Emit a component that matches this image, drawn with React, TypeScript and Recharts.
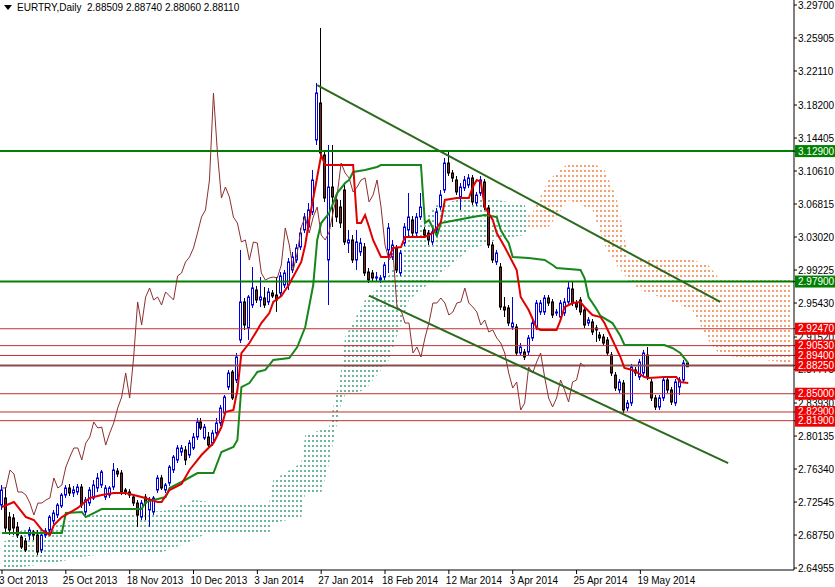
import React from "react";
import { Area, Bar, ComposedChart, Line, ReferenceLine, XAxis, YAxis } from "recharts";

const FONT = "'Liberation Sans', Arial, sans-serif";

// daily candles, EURTRY, 3 Oct 2013 .. 3 Jun 2014
const opens = [
  2.7220, 2.7301, 2.7082, 2.7071, 2.6967, 2.6852, 2.6806, 2.6875, 2.6910, 2.6875,
  2.6703, 2.6875, 2.6933, 2.7036, 2.7105, 2.7209, 2.7335, 2.7416, 2.7358, 2.7370,
  2.7427, 2.7140, 2.7243, 2.7301, 2.7416, 2.7450, 2.7312, 2.7335, 2.7427, 2.7611,
  2.7588, 2.7393, 2.7370, 2.7312, 2.7243, 2.7082, 2.7312, 2.7163, 2.7140, 2.7393,
  2.7531, 2.7393, 2.7473, 2.7623, 2.7738, 2.7830, 2.7853, 2.7795, 2.7876, 2.8002,
  2.8175, 2.7991, 2.8002, 2.7933, 2.8048, 2.8163, 2.8278, 2.8577, 2.8750, 2.8658,
  2.9118, 2.9555, 2.9256, 2.9520, 2.9693, 2.9578, 2.9601, 2.9555, 2.9658, 2.9635,
  2.9658, 2.9750, 2.9750, 2.9923, 3.0038, 3.0187, 3.0383, 3.0417, 3.0590, 3.1418,
  3.1843, 3.1245, 3.0038, 3.0877, 3.0728, 3.0647, 3.0843, 3.0233, 3.0268, 3.0038,
  3.0130, 3.0187, 2.9900, 2.9888, 2.9831, 2.9808, 2.9842, 3.0153, 3.0072, 3.0176,
  2.9888, 3.0233, 3.0383, 3.0498, 3.0348, 3.0532, 3.0383, 3.0348, 3.0245, 3.0383,
  3.0647, 3.0843, 3.1153, 3.1038, 3.0958, 3.0762, 3.0866, 3.0900, 3.0981, 3.0693,
  3.0808, 3.0935, 3.0636, 3.0210, 3.0015, 2.9957, 2.9497, 2.9486, 2.9267, 2.9267,
  2.8968, 2.8980, 2.8980, 2.9141, 2.9267, 2.9440, 2.9440, 2.9601, 2.9555, 2.9428,
  2.9382, 2.9428, 2.9555, 2.9704, 2.9543, 2.9578, 2.9463, 2.9313, 2.9325, 2.9256,
  2.9175, 2.9152, 2.9118, 2.8945, 2.8715, 2.8543, 2.8623, 2.8336, 2.8393, 2.8773,
  2.8692, 2.8738, 2.8945, 2.8635, 2.8451, 2.8347, 2.8451, 2.8658, 2.8543, 2.8393,
  2.8577, 2.8658, 2.88509,
];
const highs = [
  2.7450, 2.7427, 2.7140, 2.7117, 2.7025, 2.6875, 2.6841, 2.6967, 2.6933, 2.6933,
  2.6898, 2.6956, 2.7105, 2.7163, 2.7243, 2.7358, 2.7450, 2.7462, 2.7439, 2.7462,
  2.7462, 2.7312, 2.7427, 2.7508, 2.7588, 2.7623, 2.7450, 2.7439, 2.7703, 2.7646,
  2.7623, 2.7416, 2.7404, 2.7347, 2.7278, 2.7278, 2.7347, 2.7312, 2.7324, 2.7565,
  2.7565, 2.7473, 2.7680, 2.7795, 2.7910, 2.7910, 2.7899, 2.7968, 2.8048, 2.8221,
  2.8221, 2.8152, 2.8060, 2.8083, 2.8221, 2.8370, 2.8485, 2.8773, 2.8773, 2.8968,
  3.0153, 2.9601, 2.9635, 2.9957, 2.9739, 2.9842, 2.9727, 2.9716, 2.9693, 2.9842,
  2.9900, 2.9923, 3.0061, 3.0130, 3.0222, 3.0406, 3.0578, 3.0693, 3.1073, 3.2073,
  3.2706, 3.1303, 3.1360, 3.1360, 3.0785, 3.0728, 3.0900, 3.0383, 3.0325, 3.0383,
  3.0291, 3.0233, 2.9946, 2.9923, 2.9900, 2.9865, 3.0015, 3.0463, 3.0268, 3.0210,
  3.0153, 3.0463, 3.0808, 3.0544, 3.0578, 3.0808, 3.0417, 3.0383, 3.0406, 3.0636,
  3.0843, 3.1211, 3.1280, 3.1073, 3.1004, 3.0923, 3.1004, 3.1027, 3.1015, 3.0820,
  3.1004, 3.0969, 3.0670, 3.0245, 3.0153, 3.0003, 2.9612, 2.9520, 2.9612, 2.9302,
  2.9083, 2.9014, 2.9175, 2.9348, 2.9578, 2.9578, 2.9635, 2.9635, 2.9589, 2.9474,
  2.9578, 2.9601, 2.9785, 2.9785, 2.9578, 2.9612, 2.9497, 2.9382, 2.9359, 2.9290,
  2.9210, 2.9187, 2.9152, 2.8980, 2.8750, 2.8669, 2.8658, 2.8428, 2.8842, 2.8807,
  2.8899, 2.9003, 2.9037, 2.8669, 2.8485, 2.8485, 2.8692, 2.8692, 2.8577, 2.8669,
  2.8692, 2.8888, 2.8874,
];
const lows = [
  2.7163, 2.6910, 2.6875, 2.6875, 2.6841, 2.6714, 2.6680, 2.6818, 2.6818, 2.6645,
  2.6668, 2.6841, 2.6898, 2.7002, 2.7071, 2.7186, 2.7301, 2.7324, 2.7312, 2.7335,
  2.7186, 2.7105, 2.7209, 2.7278, 2.7370, 2.7416, 2.7278, 2.7301, 2.7393, 2.7542,
  2.7335, 2.7335, 2.7301, 2.7209, 2.6967, 2.7048, 2.7048, 2.6967, 2.7105, 2.7358,
  2.7393, 2.7358, 2.7439, 2.7588, 2.7703, 2.7784, 2.7680, 2.7761, 2.7853, 2.7968,
  2.8083, 2.7968, 2.7887, 2.7899, 2.8014, 2.8129, 2.8244, 2.8543, 2.8428, 2.8623,
  2.9083, 2.9233, 2.9118, 2.9486, 2.9543, 2.9497, 2.9486, 2.9520, 2.9601, 2.9440,
  2.9624, 2.9716, 2.9693, 2.9888, 3.0003, 3.0153, 3.0348, 3.0383, 3.0555, 3.1360,
  3.1222, 3.0705, 2.9520, 3.0417, 3.0475, 3.0406, 3.0210, 3.0118, 3.0003, 2.9923,
  3.0084, 2.9854, 2.9773, 2.9796, 2.9796, 2.9773, 2.9808, 2.9888, 3.0038, 2.9888,
  2.9854, 3.0199, 3.0302, 3.0314, 3.0314, 3.0498, 3.0291, 3.0210, 3.0210, 3.0348,
  3.0613, 3.0808, 3.1004, 3.0935, 3.0785, 3.0613, 3.0831, 3.0866, 3.0670, 3.0659,
  3.0774, 3.0613, 3.0176, 3.0003, 2.9980, 2.9463, 2.9382, 2.9279, 2.9233, 2.8934,
  2.8934, 2.8888, 2.8945, 2.9106, 2.9233, 2.9405, 2.9405, 2.9509, 2.9371, 2.9394,
  2.9348, 2.9394, 2.9520, 2.9509, 2.9463, 2.9405, 2.9256, 2.9279, 2.9175, 2.9095,
  2.9106, 2.9049, 2.8934, 2.8704, 2.8531, 2.8508, 2.8278, 2.8301, 2.8359, 2.8704,
  2.8658, 2.8704, 2.8658, 2.8416, 2.8313, 2.8313, 2.8416, 2.8508, 2.8370, 2.8359,
  2.8485, 2.8623, 2.8806,
];
const closes = [
  2.7393, 2.6956, 2.6933, 2.6956, 2.6875, 2.6737, 2.6703, 2.6933, 2.6875, 2.6680,
  2.6875, 2.6921, 2.7082, 2.7128, 2.7220, 2.7335, 2.7416, 2.7358, 2.7393, 2.7427,
  2.7220, 2.7278, 2.7393, 2.7450, 2.7531, 2.7600, 2.7416, 2.7416, 2.7623, 2.7577,
  2.7370, 2.7370, 2.7335, 2.7243, 2.7105, 2.7243, 2.7243, 2.7278, 2.7301, 2.7531,
  2.7416, 2.7450, 2.7657, 2.7772, 2.7876, 2.7876, 2.7738, 2.7933, 2.8002, 2.8175,
  2.8106, 2.8117, 2.7910, 2.8048, 2.8163, 2.8336, 2.8462, 2.8738, 2.8451, 2.8922,
  2.9555, 2.9290, 2.9612, 2.9716, 2.9578, 2.9612, 2.9520, 2.9670, 2.9624, 2.9578,
  2.9854, 2.9888, 3.0015, 3.0072, 3.0176, 3.0348, 3.0532, 3.0613, 3.0958, 3.1958,
  3.1268, 3.0751, 3.0877, 3.0762, 3.0532, 3.0463, 3.0245, 3.0268, 3.0038, 3.0245,
  3.0233, 2.9888, 2.9808, 2.9831, 2.9842, 2.9831, 2.9980, 3.0406, 3.0210, 2.9923,
  3.0118, 3.0417, 3.0532, 3.0348, 3.0532, 3.0647, 3.0325, 3.0268, 3.0360, 3.0590,
  3.0785, 3.1153, 3.1038, 3.0981, 3.0820, 3.0877, 3.0958, 3.0981, 3.0705, 3.0785,
  3.0958, 3.0647, 3.0210, 3.0038, 3.0118, 2.9497, 2.9463, 2.9313, 2.9313, 2.8968,
  2.9037, 2.8922, 2.9141, 2.9313, 2.9543, 2.9543, 2.9601, 2.9543, 2.9405, 2.9440,
  2.9543, 2.9555, 2.9716, 2.9543, 2.9497, 2.9440, 2.9290, 2.9348, 2.9210, 2.9233,
  2.9141, 2.9083, 2.8968, 2.8738, 2.8566, 2.8635, 2.8313, 2.8393, 2.8807, 2.8738,
  2.8865, 2.8968, 2.8692, 2.8451, 2.8347, 2.8451, 2.8658, 2.8543, 2.8405, 2.8635,
  2.8658, 2.8853, 2.8811,
];

// ichimoku lines, read at the bars where they turn
const tenkanBars = [
  0, 3, 6, 8, 10, 12, 13, 15, 19, 22, 25, 28, 31, 35, 39, 40, 42, 45, 47, 50,
  53, 55, 56, 58, 59, 60, 62, 64, 65, 67, 68, 70, 72, 75, 76, 77, 79, 80, 81, 88,
  89, 90, 91, 92, 93, 95, 97, 98, 100, 101, 106, 108, 110, 111, 114, 117, 118, 119, 120, 121,
  123, 124, 126, 129, 130, 132, 134, 135, 139, 140, 141, 143, 145, 146, 148, 150, 151, 153, 155, 156,
  158, 159, 161, 162, 166, 169, 170, 172,
];
const tenkanValues = [
  2.7197, 2.7255, 2.7082, 2.7048, 2.6933, 2.6875, 2.6990, 2.7082, 2.7186, 2.7301, 2.7335, 2.7358, 2.7358, 2.7312, 2.7255, 2.7255, 2.7393, 2.7462, 2.7623, 2.7795,
  2.7933, 2.8117, 2.8290, 2.8313, 2.8543, 2.8968, 2.9083, 2.9233, 2.9313, 2.9428, 2.9555, 2.9624, 2.9762, 3.0015, 3.0210, 3.0498, 3.0992, 3.1245, 3.1130, 3.1130,
  3.0463, 3.0463, 3.0555, 3.0417, 3.0268, 3.0072, 3.0072, 3.0176, 3.0187, 3.0302, 3.0302, 3.0348, 3.0475, 3.0728, 3.0751, 3.0751, 3.0877, 3.0958, 3.0935, 3.0647,
  3.0498, 3.0348, 3.0187, 2.9923, 2.9612, 2.9463, 2.9256, 2.9233, 2.9233, 2.9348, 2.9497, 2.9543, 2.9555, 2.9497, 2.9405, 2.9382, 2.9313, 2.9118, 2.8922, 2.8796,
  2.8773, 2.8750, 2.8692, 2.8681, 2.8692, 2.8692, 2.8635, 2.8623,
];
const kijunBars = [
  0, 15, 16, 20, 21, 23, 25, 35, 36, 41, 42, 45, 49, 53, 55, 58, 59, 60, 62, 64,
  66, 68, 72, 74, 76, 78, 79, 80, 82, 84, 86, 87, 88, 91, 94, 95, 105, 106, 107, 109,
  110, 114, 118, 121, 124, 125, 126, 127, 128, 132, 136, 138, 139, 145, 146, 147, 149, 150, 153, 155,
  156, 166, 168, 170, 172,
];
const kijunValues = [
  2.6898, 2.6898, 2.7128, 2.7140, 2.7082, 2.7128, 2.7174, 2.7174, 2.7255, 2.7312, 2.7416, 2.7485, 2.7588, 2.7588, 2.7830, 2.7887, 2.7968, 2.8577, 2.8623, 2.8750,
  2.8773, 2.8888, 2.8911, 2.9037, 2.9267, 2.9750, 3.0268, 3.0463, 3.0578, 3.0808, 3.0923, 3.0958, 3.1050, 3.1073, 3.1107, 3.1130, 3.1130, 3.0463, 3.0498, 3.0314,
  3.0463, 3.0498, 3.0532, 3.0555, 3.0532, 3.0383, 3.0302, 3.0233, 3.0072, 3.0061, 3.0038, 2.9980, 2.9946, 2.9923, 2.9830, 2.9612, 2.9474, 2.9394, 2.9313, 2.9164,
  2.9060, 2.9060, 2.9026, 2.8968, 2.8853,
];

// cloud (senkou span A / B); rising part and falling part
const upCloudBars = [0, 5, 14, 20, 27, 37, 42, 48, 52, 67, 68, 75, 76, 80, 82, 85, 86, 91, 97, 102, 109, 117, 124, 131, 132];
const upSpanA = [
  2.6783, 2.6933, 2.6990, 2.7082, 2.7128, 2.7140, 2.7163, 2.7278, 2.7255, 2.7255, 2.7508, 2.7703, 2.8025,
  2.8083, 2.8117, 2.8773, 2.9152, 2.9578, 2.9865, 3.0325, 3.0670, 3.0762, 3.0728, 3.0670, 3.0555,
];
const upSpanB = [
  2.6507, 2.6507, 2.6565, 2.6622, 2.6668, 2.6645, 2.6703, 2.6818, 2.6910, 2.6910, 2.7013, 2.7082, 2.7358,
  2.7358, 2.7703, 2.8393, 2.8485, 2.8543, 2.8888, 2.9578, 2.9842, 3.0153, 3.0268, 3.0325, 3.0406,
];
const downCloudBars = [132, 133, 137, 142, 148, 151, 154, 157, 160, 167, 173, 177, 180, 198];
const downSpanA = [3.0555, 3.0406, 3.0417, 3.0728, 3.0613, 3.0210, 2.9980, 2.9808, 2.9693, 2.9578, 2.9463, 2.9118, 2.8945, 2.8853];
const downSpanB = [3.0406, 3.0590, 3.0958, 3.1153, 3.1153, 3.1073, 3.0762, 3.0072, 3.0038, 3.0038, 3.0038, 2.9980, 2.9808, 2.9808];

const CHIKOU_SHIFT = 26;
const SLOTS = 199;

const dateTicks = [0, 16, 32, 48, 64, 80, 96, 112, 128, 144, 160];
const dateLabels = [
  "3 Oct 2013", "25 Oct 2013", "18 Nov 2013", "10 Dec 2013", "3 Jan 2014", "27 Jan 2014",
  "18 Feb 2014", "12 Mar 2014", "3 Apr 2014", "25 Apr 2014", "19 May 2014",
];

const priceTicks = [
  3.297, 3.25905, 3.2211, 3.182, 3.14405, 3.1061, 3.06815, 3.0302, 2.99225, 2.9543,
  2.9152, 2.87775, 2.8393, 2.80135, 2.7634, 2.72545, 2.6875, 2.64955,
];
const greenLevels = [3.129, 2.979];
const redLevels = [2.9247, 2.9053, 2.894, 2.8825, 2.85, 2.829, 2.819];

const upperTrend = [{ x: 79, y: 3.205 }, { x: 180, y: 2.9555 }];
const lowerTrend = [{ x: 92, y: 2.9629 }, { x: 182, y: 2.7703 }];

const Y_MIN = 2.6473;
const Y_MAX = 3.30275;

const span = (a: number, b: number) => [Math.min(a, b), Math.max(a, b)];

const rows = Array.from({ length: SLOTS }, (_, i) => {
  const has = i < closes.length;
  const t = tenkanBars.indexOf(i);
  const k = kijunBars.indexOf(i);
  const u = upCloudBars.indexOf(i);
  const d = downCloudBars.indexOf(i);
  return {
    i,
    range: has ? [lows[i], highs[i]] : null,
    open: has ? opens[i] : null,
    close: has ? closes[i] : null,
    chikou: i + CHIKOU_SHIFT < closes.length ? closes[i + CHIKOU_SHIFT] : null,
    tenkan: t >= 0 ? tenkanValues[t] : null,
    kijun: k >= 0 ? kijunValues[k] : null,
    upCloud: u >= 0 ? span(upSpanA[u], upSpanB[u]) : null,
    downCloud: d >= 0 ? span(downSpanA[d], downSpanB[d]) : null,
  };
});

function Candle(props: any) {
  const { x, y, width, height, payload } = props;
  if (!payload || !payload.range) return null;
  const [lo, hi] = payload.range;
  const k = hi > lo ? height / (hi - lo) : 0;
  const toY = (p: number) => y + (hi - p) * k;
  const bull = payload.close >= payload.open;
  const cx = Math.floor(x + width / 2) + 0.5;
  const top = toY(Math.max(payload.open, payload.close));
  const bot = toY(Math.min(payload.open, payload.close));
  return (
    <g>
      <line x1={cx} x2={cx} y1={y} y2={y + height} stroke={bull ? "#0000dd" : "#000"} />
      <rect
        x={cx - 1}
        y={top}
        width={2}
        height={Math.max(bot - top, 1)}
        fill={bull ? "#fff" : "#7b2222"}
        stroke={bull ? "#0000dd" : "#000"}
      />
    </g>
  );
}

function PriceTick(props: any) {
  const { x, y, payload } = props;
  const v = payload.value;
  const green = greenLevels.includes(v);
  const red = redLevels.includes(v);
  const label = v.toFixed(5);
  if (green || red) {
    return (
      <g>
        <rect x={x - 4} y={y - 6} width={42} height={12} fill={green ? "#008000" : "#f00000"} />
        <text x={x - 1} y={y + 3.5} fill="#fff" fontSize={10} fontFamily={FONT}>
          {label}
        </text>
      </g>
    );
  }
  return (
    <text x={x - 1} y={y + 3.5} fill="#000" fontSize={10} fontFamily={FONT}>
      {label}
    </text>
  );
}

function DateTick(props: any) {
  const { x, y, payload } = props;
  const n = dateTicks.indexOf(payload.value);
  return (
    <text x={x - 3} y={y + 8} fill="#000" fontSize={10} fontFamily={FONT}>
      {n >= 0 ? dateLabels[n] : ""}
    </text>
  );
}

export default function App() {
  return (
    <div style={{ position: "absolute", left: 0, top: 0, width: 835, height: 587, background: "#fff" }}>
      <svg width={0} height={0} style={{ position: "absolute" }}>
        <defs>
          <pattern id="ichiCloudUp" x="0" y="0" width="4" height="5" patternUnits="userSpaceOnUse">
            <rect x="0" y="0" width="2" height="2" fill="#6fb8a0" />
          </pattern>
          <pattern id="ichiCloudDown" x="0" y="0" width="4" height="5" patternUnits="userSpaceOnUse">
            <rect x="0" y="0" width="2" height="2" fill="#f4a070" />
          </pattern>
        </defs>
      </svg>
      <ComposedChart width={835} height={587} data={rows} margin={{ top: 0, right: 0, bottom: 0, left: 0 }}>
        <XAxis
          dataKey="i"
          type="category"
          ticks={dateTicks}
          interval={0}
          tick={<DateTick />}
          tickSize={4}
          tickMargin={2}
          tickLine={{ stroke: "#000" }}
          axisLine={{ stroke: "#000" }}
          height={17}
        />
        <YAxis
          orientation="right"
          type="number"
          domain={[Y_MIN, Y_MAX]}
          allowDataOverflow
          ticks={[...priceTicks, ...greenLevels, ...redLevels]}
          interval={0}
          tick={<PriceTick />}
          tickSize={3}
          tickMargin={2}
          tickLine={{ stroke: "#000" }}
          axisLine={{ stroke: "#000" }}
          width={41}
        />
        <Area dataKey="upCloud" connectNulls fill="url(#ichiCloudUp)" fillOpacity={1} stroke="none" activeDot={false} isAnimationActive={false} />
        <Area dataKey="downCloud" connectNulls fill="url(#ichiCloudDown)" fillOpacity={1} stroke="none" activeDot={false} isAnimationActive={false} />
        {redLevels.map((p) => (
          <ReferenceLine key={p} y={p} stroke={p === 2.8825 ? "#8c4a4a" : "#c03030"} strokeWidth={p === 2.8825 ? 2 : 1} />
        ))}
        {greenLevels.map((p) => (
          <ReferenceLine key={p} y={p} stroke="#008000" strokeWidth={2} />
        ))}
        <Bar dataKey="range" shape={Candle} barSize={3} activeBar={false} isAnimationActive={false} />
        <Line dataKey="chikou" stroke="#8b3030" strokeWidth={1} dot={false} activeDot={false} isAnimationActive={false} />
        <Line dataKey="kijun" connectNulls stroke="#16871a" strokeWidth={2} dot={false} activeDot={false} isAnimationActive={false} />
        <Line dataKey="tenkan" connectNulls stroke="#e00000" strokeWidth={2} dot={false} activeDot={false} isAnimationActive={false} />
        <ReferenceLine segment={upperTrend} stroke="#2a6a1c" strokeWidth={2} />
        <ReferenceLine segment={lowerTrend} stroke="#2a6a1c" strokeWidth={2} />
      </ComposedChart>
      <div
        style={{
          position: "absolute",
          left: 4,
          top: 2,
          fontFamily: FONT,
          fontSize: 10,
          whiteSpace: "pre",
          color: "#000",
          display: "flex",
          alignItems: "center",
        }}
      >
        <svg width={9} height={6} style={{ marginRight: 4 }}>
          <polygon points="0,0 8,0 4,5" fill="#000" />
        </svg>
        {"EURTRY,Daily  2.88509 2.88740 2.88060 2.88110"}
      </div>
    </div>
  );
}
